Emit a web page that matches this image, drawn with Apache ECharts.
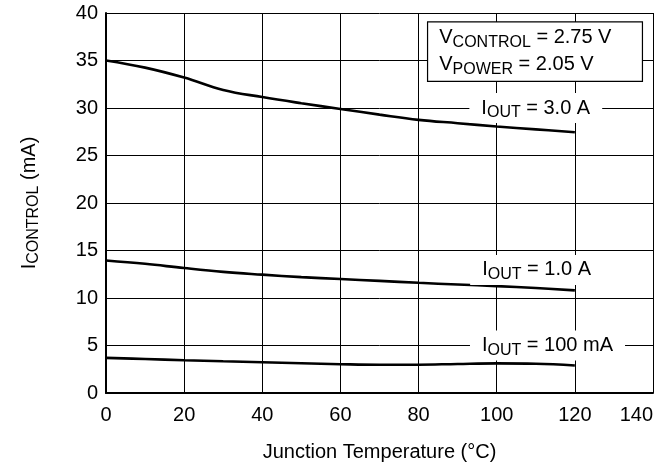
<!DOCTYPE html>
<html><head><meta charset="utf-8">
<script src="https://cdn.jsdelivr.net/npm/echarts@6/dist/echarts.min.js"></script>
<style>html,body{margin:0;padding:0;background:#fff}#c{width:658px;height:467px}</style>
</head><body><div id="c"></div>
<script>
const temps = [0, 10, 20, 30, 40, 50, 60, 70, 80, 90, 100, 110, 120];
const iOut3A = [35.0, 34.25, 33.2, 31.9, 31.15, 30.5, 29.9, 29.3, 28.75, 28.4, 28.05, 27.75, 27.45];
const iOut1A = [13.95, 13.6, 13.15, 12.75, 12.46, 12.2, 12.0, 11.8, 11.6, 11.42, 11.25, 11.05, 10.8];
const iOut100mA = [3.7, 3.58, 3.45, 3.34, 3.24, 3.13, 3.03, 2.97, 2.98, 3.06, 3.12, 3.08, 2.9];
const seriesNames = ['3.0 A', '1.0 A', '100 mA'];
const xRange = [0, 140, 20];
const yRange = [0, 40, 5];

const FONT = 'Liberation Sans';
const FS = 20, SFS = 16;
const chart = echarts.init(document.getElementById('c'), null, {renderer: 'canvas'});
const pair = (xs, ys) => xs.map((x, i) => [x, ys[i]]);
const lineSeries = (name, ys) => ({
  name, type: 'line', data: pair(temps, ys), smooth: 0.4, symbol: 'none',
  lineStyle: {color: '#000', width: 2.6}, silent: true, animation: false
});
const rich = {
  n: {fontFamily: FONT, fontSize: FS, color: '#000'},
  s: {fontFamily: FONT, fontSize: SFS, color: '#000', padding: [10, 0, 0, 0]}
};

chart.setOption({
  animation: false,
  grid: {left: 106, right: 5, top: 13, bottom: 71, containLabel: false},
  xAxis: {
    type: 'value', min: xRange[0], max: xRange[1], interval: xRange[2],
    name: 'Junction Temperature (°C)', nameLocation: 'middle', nameGap: 49,
    nameTextStyle: {fontFamily: FONT, fontSize: FS, color: '#000'},
    axisLine: {show: true, onZero: false, lineStyle: {color: '#000', width: 2}},
    axisTick: {show: false},
    axisLabel: {fontFamily: FONT, fontSize: FS, color: '#000', margin: 12, alignMaxLabel: 'right'},
    splitLine: {show: true, lineStyle: {color: '#000', width: 1}}
  },
  yAxis: {
    type: 'value', min: yRange[0], max: yRange[1], interval: yRange[2],
    name: '{n|I}{s|CONTROL}{n| (mA)}', nameLocation: 'middle', nameGap: 64, nameRotate: 90,
    nameTextStyle: {fontFamily: FONT, fontSize: FS, color: '#000', rich},
    axisLine: {show: true, onZero: false, lineStyle: {color: '#000', width: 2}},
    axisTick: {show: false},
    axisLabel: {fontFamily: FONT, fontSize: FS, color: '#000', margin: 8},
    splitLine: {show: true, lineStyle: {color: '#000', width: 1}}
  },
  series: [lineSeries(seriesNames[0], iOut3A), lineSeries(seriesNames[1], iOut1A), lineSeries(seriesNames[2], iOut100mA)]
});

const px = (x, y) => chart.convertToPixel({gridIndex: 0}, [x, y]);
const labelAt = (tx, ty, name) => {
  const p = px(tx, ty);
  return {
    type: 'text', x: p[0], y: p[1], z: 10,
    style: {text: '{n|I}{s|OUT}{n| = ' + name + '}', rich, align: 'center', verticalAlign: 'middle',
            backgroundColor: '#fff', padding: [2, 12, 2, 12]}
  };
};
const boxTL = px(82.3, 39.06), boxBR = px(137.3, 32.8);
const line1 = px(85.3, 37.4), line2 = px(85.3, 34.6);
chart.setOption({
  graphic: [
    labelAt(110, 30, seriesNames[0]),
    labelAt(110.2, 12.95, seriesNames[1]),
    labelAt(113, 5, seriesNames[2]),
    {type: 'rect', z: 10, shape: {x: boxTL[0], y: boxTL[1], width: boxBR[0] - boxTL[0], height: boxBR[1] - boxTL[1]},
     style: {fill: '#fff', stroke: '#000', lineWidth: 1.2}},
    {type: 'text', z: 11, x: line1[0], y: line1[1],
     style: {text: '{n|V}{s|CONTROL}{n| = 2.75 V}', rich, align: 'left', verticalAlign: 'middle'}},
    {type: 'text', z: 11, x: line2[0], y: line2[1],
     style: {text: '{n|V}{s|POWER}{n| = 2.05 V}', rich, align: 'left', verticalAlign: 'middle'}}
  ]
});
</script></body></html>
